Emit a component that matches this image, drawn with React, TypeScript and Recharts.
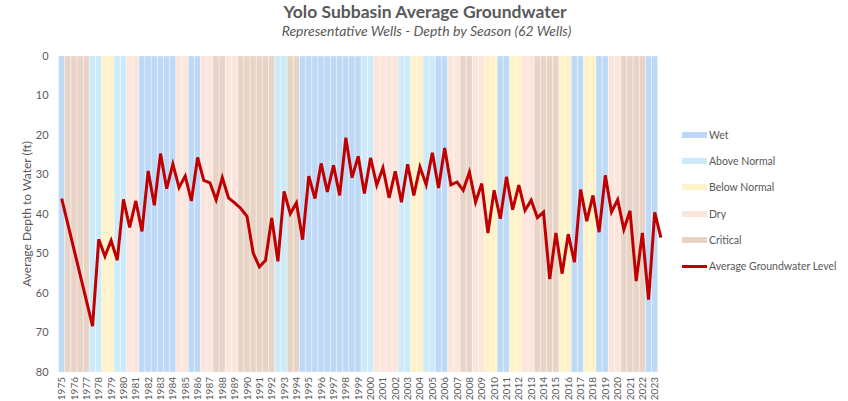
import { ComposedChart, Bar, Line, XAxis, YAxis, Cell } from 'recharts'

// calendar years on the axis
const years = [
  1975, 1976, 1977, 1978, 1979, 1980, 1981, 1982, 1983, 1984,
  1985, 1986, 1987, 1988, 1989, 1990, 1991, 1992, 1993, 1994,
  1995, 1996, 1997, 1998, 1999, 2000, 2001, 2002, 2003, 2004,
  2005, 2006, 2007, 2008, 2009, 2010, 2011, 2012, 2013, 2014,
  2015, 2016, 2017, 2018, 2019, 2020, 2021, 2022, 2023,
]

// water year type for WY 1975..2023
const waterYearTypes = [
  'W', 'C', 'C', 'AN', 'BN', 'AN', 'D', 'W', 'W', 'W',
  'D', 'W', 'D', 'C', 'D', 'C', 'C', 'C', 'AN', 'C',
  'W', 'W', 'W', 'W', 'W', 'AN', 'D', 'D', 'AN', 'BN',
  'AN', 'W', 'D', 'C', 'D', 'BN', 'W', 'BN', 'D', 'C',
  'C', 'BN', 'W', 'BN', 'W', 'D', 'C', 'C', 'W',
]

// average depth to water (ft), spring and fall of each year
const springDepth = [
  36.1, null, null, 46.4, 46.7, 36.3, 36.7, 29.1, 24.7, 27.4,
  30.4, 25.7, 32.1, 30.8, 37.2, 40.6, 53.4, 41.0, 34.3, 37.2,
  30.4, 27.2, 27.7, 20.7, 25.4, 25.8, 28.3, 29.2, 27.4, 28.1,
  24.5, 23.3, 31.9, 29.4, 32.3, 34.0, 30.6, 32.7, 36.5, 39.5,
  44.8, 45.1, 33.8, 35.3, 30.2, 36.4, 39.2, 44.8, 39.6,
]
const fallDepth = [
  null, null, 68.4, 50.7, 51.7, 43.4, 44.4, 37.8, 33.6, 33.3,
  36.7, 31.5, 36.4, 35.9, 38.6, 49.9, 51.7, 52.0, 39.9, 46.5,
  36.1, 34.4, 35.3, 30.8, 34.8, 32.7, 35.9, 37.0, 35.3, 32.6,
  33.4, 32.6, 34.0, 37.0, 44.8, 41.2, 38.9, 39.1, 40.9, 56.5,
  55.1, 52.2, 41.8, 44.6, 39.5, 43.9, 57.0, 61.7, 46.0,
]

const yTicks = [0, 10, 20, 30, 40, 50, 60, 70, 80]

const typeColors: Record<string, string> = {
  W: '#bed9f6',
  AN: '#cdeaf9',
  BN: '#fef2c8',
  D: '#fbe5dc',
  C: '#e7d4c7',
}

const legendItems = [
  { name: 'Wet', key: 'W' },
  { name: 'Above Normal', key: 'AN' },
  { name: 'Below Normal', key: 'BN' },
  { name: 'Dry', key: 'D' },
  { name: 'Critical', key: 'C' },
]

// fall readings fall in the following water year
const data = years.flatMap((yr, i) => [
  { label: `${yr} Spring`, depth: springDepth[i], wy: waterYearTypes[i], band: 80 },
  {
    label: `${yr} Fall`,
    depth: fallDepth[i],
    wy: waterYearTypes[i + 1] ?? null,
    band: waterYearTypes[i + 1] ? 80 : null,
  },
])

const gray = '#595959'

const YearTick = (props: any) => {
  const { x, y, payload } = props
  const value: string = payload.value
  if (!value.endsWith('Spring')) return null
  return (
    <g transform={`translate(${x},${y})`}>
      <text
        transform="rotate(-90)"
        x={3}
        dy="0.35em"
        textAnchor="end"
        fill={gray}
        fontSize={10}
      >
        {value.slice(0, 4)}
      </text>
    </g>
  )
}

export default function App() {
  return (
    <div
      style={{
        position: 'relative',
        width: 848,
        height: 401,
        fontFamily: 'Lato, "Open Sans", sans-serif',
        background: '#fff',
      }}
    >
      <style>{'body{margin:0}'}</style>
      <div
        style={{
          position: 'absolute',
          left: 0,
          width: 850,
          top: 1,
          textAlign: 'center',
          fontSize: 17.5,
          fontWeight: 700,
          color: gray,
        }}
      >
        Yolo Subbasin Average Groundwater
      </div>
      <div
        style={{
          position: 'absolute',
          left: 0,
          width: 853,
          top: 22,
          textAlign: 'center',
          fontSize: 14,
          fontStyle: 'italic',
          color: gray,
        }}
      >
        Representative Wells - Depth by Season (62 Wells)
      </div>

      <ComposedChart
        width={848}
        height={401}
        data={data}
        margin={{ top: 56, right: 184, bottom: 0, left: 0.6 }}
        barCategoryGap={0}
        barGap={0}
      >
        <XAxis
          dataKey="label"
          type="category"
          interval={0}
          height={29}
          axisLine={false}
          tickLine={false}
          tick={<YearTick />}
        />
        <YAxis
          reversed
          domain={[0, 80]}
          ticks={yTicks}
          width={58}
          axisLine={false}
          tickLine={false}
          tickMargin={4}
          tick={{ fill: gray, fontSize: 11 }}
          label={{
            value: 'Average Depth to Water (ft)',
            angle: -90,
            position: 'center',
            dx: -3,
            style: { fill: gray, fontSize: 12 },
          }}
        />
        <Bar dataKey="band" isAnimationActive={false}>
          {data.map((d, i) => (
            <Cell
              key={`band-${i}`}
              fill={d.wy ? typeColors[d.wy] : 'none'}
              stroke="#ffffff"
              strokeOpacity={0.35}
              strokeWidth={0.8}
            />
          ))}
        </Bar>
        <Line
          dataKey="depth"
          type="linear"
          stroke="#c00000"
          strokeWidth={3}
          dot={false}
          activeDot={false}
          connectNulls
          isAnimationActive={false}
        />
      </ComposedChart>

      <div style={{ position: 'absolute', left: 682, top: 122 }}>
        {legendItems.map((item) => (
          <div
            key={item.key}
            style={{ display: 'flex', alignItems: 'center', height: 26.2 }}
          >
            <span
              style={{
                display: 'inline-block',
                width: 25,
                height: 6,
                background: typeColors[item.key],
                marginRight: 2,
              }}
            />
            <span style={{ fontSize: 10.5, color: gray }}>{item.name}</span>
          </div>
        ))}
        <div style={{ display: 'flex', alignItems: 'center', height: 26.2 }}>
          <span
            style={{
              display: 'inline-block',
              width: 25,
              height: 3,
              background: '#c00000',
              marginRight: 2,
            }}
          />
          <span style={{ fontSize: 10.5, color: gray }}>
            Average Groundwater Level
          </span>
        </div>
      </div>
    </div>
  )
}
